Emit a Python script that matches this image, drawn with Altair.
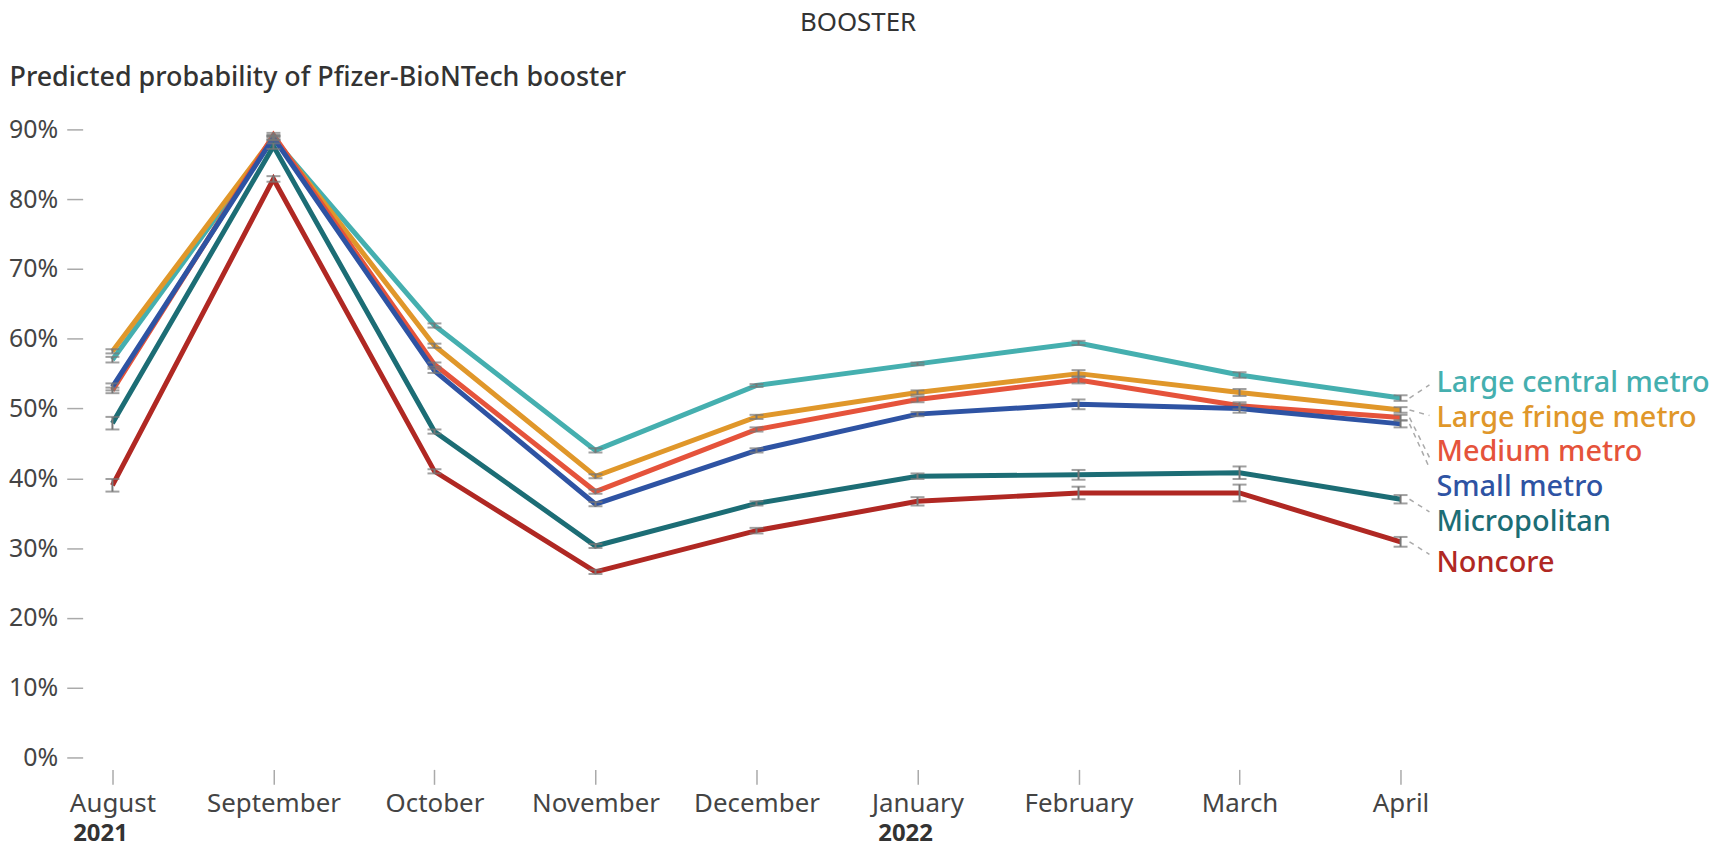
import altair as alt
import pandas as pd

months = ["August", "September", "October", "November", "December",
          "January", "February", "March", "April"]
series = ["Large central metro", "Large fringe metro", "Medium metro",
          "Small metro", "Micropolitan", "Noncore"]
colors = ["#45AFAF", "#E0972A", "#E5533B", "#2E53A3", "#1C6D75", "#B02823"]

large_central = [57.0, 88.7, 61.9, 44.0, 53.3, 56.4, 59.4, 54.8, 51.5]
large_fringe = [58.2, 88.9, 59.0, 40.3, 48.8, 52.3, 55.0, 52.3, 49.8]
medium_metro = [52.6, 89.2, 56.3, 38.1, 47.0, 51.3, 54.1, 50.4, 48.7]
small_metro = [53.1, 88.8, 55.4, 36.3, 44.0, 49.2, 50.6, 50.0, 47.8]
micropolitan = [47.9, 87.6, 46.7, 30.3, 36.4, 40.3, 40.5, 40.8, 37.0]
noncore = [39.0, 82.9, 41.0, 26.6, 32.5, 36.7, 37.9, 37.9, 30.9]

ci_large_central = [0.4, 0.3, 0.3, 0.3, 0.2, 0.2, 0.3, 0.4, 0.4]
ci_large_fringe = [0.3, 0.3, 0.3, 0.3, 0.3, 0.3, 0.5, 0.5, 0.4]
ci_medium_metro = [0.4, 0.3, 0.3, 0.3, 0.3, 0.4, 0.5, 0.5, 0.4]
ci_small_metro = [0.5, 0.3, 0.3, 0.3, 0.3, 0.3, 0.7, 0.6, 0.5]
ci_micropolitan = [0.9, 0.4, 0.3, 0.3, 0.3, 0.4, 0.7, 0.9, 0.6]
ci_noncore = [0.9, 0.4, 0.3, 0.3, 0.4, 0.6, 0.9, 1.2, 0.7]

label_y = [53.7, 48.6, 43.8, 38.8, 33.8, 27.8]
leader_end = [53.4, 49.0, 43.0, 41.5, 35.2, 29.1]

years = ["2021", "2022"]
year_months = ["August", "January"]

values = [large_central, large_fringe, medium_metro, small_metro, micropolitan, noncore]
cis = [ci_large_central, ci_large_fringe, ci_medium_metro, ci_small_metro,
       ci_micropolitan, ci_noncore]

rows = []
for s, vals, ci in zip(series, values, cis):
    for i, (m, v, c) in enumerate(zip(months, vals, ci)):
        rows.append({"series": s, "month": m, "idx": i, "value": v,
                     "lo": v - c, "hi": v + c})
df = pd.DataFrame(rows)

lab = pd.DataFrame({
    "series": series,
    "month": ["April"] * len(series),
    "end": [v[-1] for v in values],
    "label_y": label_y,
    "leader_end": leader_end,
})
yr = pd.DataFrame({"month": year_months, "year": years})

FONT = "Noto Sans"
W, H = 1354, 631

x_enc = alt.X("month:N", sort=months,
              scale=alt.Scale(type="point", padding=0.185, domain=months),
              axis=alt.Axis(title=None, labelAngle=0, domain=False, ticks=True,
                            tickSize=15, tickColor="#aaaaaa", tickWidth=1.5,
                            offset=12, labelPadding=6, labelFontSize=26,
                            labelColor="#444444", labelFont=FONT, grid=False))
y_scale = alt.Scale(domain=[0, 90], nice=False)
color_scale = alt.Scale(domain=series, range=colors)

base = alt.Chart(df)

lines = base.mark_line(strokeWidth=5).encode(
    x=x_enc,
    y=alt.Y("value:Q", scale=y_scale,
            axis=alt.Axis(values=list(range(0, 100, 10)),
                          labelExpr="datum.value + '%'",
                          title="Predicted probability of Pfizer-BioNTech booster",
                          titleAngle=0, titleX=-74, titleY=-52,
                          titleAlign="left", titleBaseline="middle",
                          titleFontSize=27, titleFontWeight=500,
                          titleColor="#333333", titleFont=FONT,
                          domain=False, grid=False, tickSize=16,
                          tickColor="#aaaaaa", tickWidth=1.5,
                          labelPadding=9, labelFontSize=25,
                          labelColor="#444444", labelFont=FONT)),
    color=alt.Color("series:N", scale=color_scale, legend=None),
    order=alt.Order("idx:Q"),
)

err = base.mark_rule(color="#777777", strokeWidth=2).encode(
    x=alt.X("month:N", sort=months), y=alt.Y("lo:Q", scale=y_scale), y2="hi:Q")
cap_lo = base.mark_tick(color="#777777", thickness=2, size=14).encode(
    x=alt.X("month:N", sort=months), y=alt.Y("lo:Q", scale=y_scale))
cap_hi = base.mark_tick(color="#777777", thickness=2, size=14).encode(
    x=alt.X("month:N", sort=months), y=alt.Y("hi:Q", scale=y_scale))

leaders = alt.Chart(lab).mark_rule(
    color="#aaaaaa", strokeWidth=1.5, strokeDash=[5, 5], xOffset=9, x2Offset=29
).encode(
    x=alt.X("month:N", sort=months), x2="month",
    y=alt.Y("end:Q", scale=y_scale), y2="leader_end:Q")

labels = alt.Chart(lab).mark_text(
    align="left", baseline="middle", dx=36, fontSize=29, fontWeight=500, font=FONT
).encode(
    x=alt.X("month:N", sort=months),
    y=alt.Y("label_y:Q", scale=y_scale),
    text="series:N",
    color=alt.Color("series:N", scale=color_scale, legend=None))

year_text = alt.Chart(yr).mark_text(
    align="center", baseline="alphabetic", dx=-12, fontSize=24, fontWeight="bold",
    font=FONT, color="#333333"
).encode(
    x=alt.X("month:N", sort=months),
    y=alt.value(H + 84),
    text="year:N")

chart = alt.layer(lines, err, cap_lo, cap_hi, leaders, labels, year_text).properties(
    width=W, height=H,
    autosize=alt.AutoSizeParams(type="none"),
    padding={"left": 75, "top": 120, "right": 287, "bottom": 88},
    title=alt.TitleParams("BOOSTER", fontSize=26, fontWeight=400, color="#333333",
                          font=FONT, anchor="middle", frame="group", dx=102, offset=28),
).configure_view(stroke=None)

chart.save("out.html", embed_options={"renderer": "svg", "actions": False})
